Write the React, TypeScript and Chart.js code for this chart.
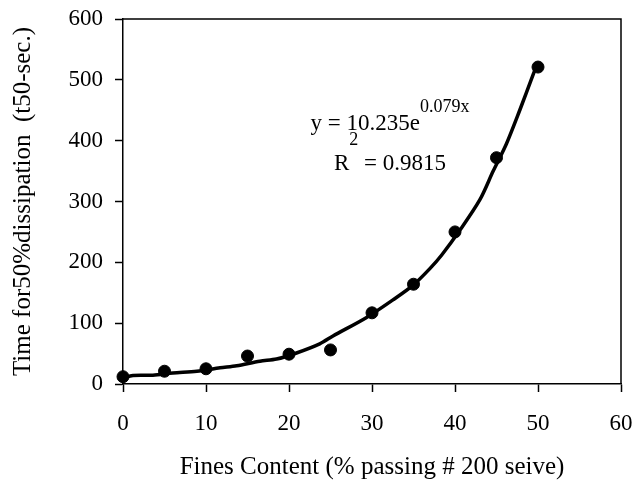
import React, { useEffect, useRef } from "react";
import { Chart, registerables } from "chart.js";

Chart.register(...registerables);

// Measured points: fines content (%) vs time for 50% dissipation (sec)
const finesContent = [0, 5, 10, 15, 20, 25, 30, 35, 40, 45, 50];
const t50Seconds = [12, 21, 25, 46, 49, 56, 117, 164, 250, 372, 521];

// Trend curve
const trendX = [0, 1.2, 3.6, 6, 8.9, 11.7, 13.7, 16.5, 18.5, 20.9, 23.7, 25.3, 29.3, 32.6, 35, 37, 38.4, 40.6, 43, 44.6, 46.2, 47.8, 49.4, 49.8];
const trendY = [10, 14, 14.5, 18, 21, 26.6, 30, 37.5, 41, 51, 66, 79, 109, 139, 163, 190, 212, 253, 303, 350, 395, 450, 508, 522];

const xTickValues = [0, 10, 20, 30, 40, 50, 60];
const yTickValues = [0, 100, 200, 300, 400, 500, 600];

const xTitle = "Fines Content (% passing # 200 seive)";
const yTitle = "Time for50%dissipation  (t50-sec.)";
const eqMain = "y = 10.235e";
const eqExp = "0.079x";
const r2Main = "R";
const r2Sup = "2";
const r2Rest = " = 0.9815";

const FONT = "'Liberation Serif', 'Times New Roman', serif";

const framePlugin = {
  id: "frameAndEquation",
  afterDatasetsDraw(chart: any) {
    const { ctx, chartArea } = chart;
    const { left, top, right, bottom } = chartArea;
    ctx.save();
    ctx.strokeStyle = "#000";
    ctx.lineWidth = 1.5;
    ctx.beginPath();
    ctx.moveTo(left, top);
    ctx.lineTo(right, top);
    ctx.lineTo(right, bottom);
    ctx.stroke();

    ctx.fillStyle = "#000";
    ctx.textAlign = "left";
    ctx.textBaseline = "alphabetic";
    const mainFont = `23px ${FONT}`;
    const supFont = `18px ${FONT}`;
    const cx = left + 267;

    ctx.font = mainFont;
    const w1 = ctx.measureText(eqMain).width;
    ctx.font = supFont;
    const w2 = ctx.measureText(eqExp).width;
    let x = cx - (w1 + w2) / 2;
    ctx.font = mainFont;
    ctx.fillText(eqMain, x, top + 111);
    ctx.font = supFont;
    ctx.fillText(eqExp, x + w1, top + 93);

    ctx.font = mainFont;
    const r1 = ctx.measureText(r2Main).width;
    const r3 = ctx.measureText(r2Rest).width;
    ctx.font = supFont;
    const r2 = ctx.measureText(r2Sup).width;
    x = cx - (r1 + r2 + r3) / 2;
    ctx.font = mainFont;
    ctx.fillText(r2Main, x, top + 151);
    ctx.font = supFont;
    ctx.fillText(r2Sup, x + r1, top + 126);
    ctx.font = mainFont;
    ctx.fillText(r2Rest, x + r1 + r2, top + 151);
    ctx.restore();
  },
};

const zeroPad = (s: any) => {
  s.paddingLeft = 0;
  s.paddingRight = 0;
  s.paddingTop = 0;
  s.paddingBottom = 0;
};

export default function App() {
  const canvasRef = useRef<HTMLCanvasElement | null>(null);

  useEffect(() => {
    if (!canvasRef.current) return;
    const chart = new Chart(canvasRef.current, {
      type: "scatter",
      data: {
        datasets: [
          {
            type: "scatter",
            data: finesContent.map((x, i) => ({ x, y: t50Seconds[i] })),
            backgroundColor: "#000",
            borderColor: "#000",
            pointRadius: 6,
            pointHoverRadius: 6,
            clip: false as any,
          },
          {
            type: "line",
            data: trendX.map((x, i) => ({ x, y: trendY[i] })),
            borderColor: "#000",
            borderWidth: 3.5,
            pointRadius: 0,
            tension: 0.3,
            fill: false,
            clip: false as any,
          } as any,
        ],
      },
      options: {
        animation: false,
        responsive: false,
        events: [],
        layout: { padding: { top: 19, right: 14, left: 0, bottom: 0 } },
        plugins: {
          legend: { display: false },
          tooltip: { enabled: false },
        },
        scales: {
          x: {
            type: "linear",
            min: 0,
            max: 60,
            afterFit: (s: any) => {
              s.height = 98;
              zeroPad(s);
            },
            afterBuildTicks: (s: any) => {
              s.ticks = xTickValues.map((v) => ({ value: v }));
            },
            ticks: {
              color: "#000",
              font: { family: FONT, size: 23, lineHeight: 1.2 },
              padding: 18,
              maxRotation: 0,
            },
            grid: {
              display: true,
              drawOnChartArea: false,
              drawTicks: true,
              tickLength: 8,
              tickWidth: 1.5,
              tickColor: "#000",
              color: "#000",
            },
            border: { display: true, color: "#000", width: 1.5 },
            title: {
              display: true,
              text: xTitle,
              color: "#000",
              font: { family: FONT, size: 25, lineHeight: 1.2 },
              padding: { top: 0, bottom: 0 },
            },
          },
          y: {
            type: "linear",
            min: 0,
            max: 600,
            afterFit: (s: any) => {
              s.width = 123;
              zeroPad(s);
            },
            afterBuildTicks: (s: any) => {
              s.ticks = yTickValues.map((v) => ({ value: v }));
            },
            ticks: {
              color: "#000",
              font: { family: FONT, size: 23, lineHeight: 1.2 },
              padding: 12,
            },
            grid: {
              display: true,
              drawOnChartArea: false,
              drawTicks: true,
              tickLength: 8,
              tickWidth: 1.5,
              tickColor: "#000",
              color: "#000",
            },
            border: { display: true, color: "#000", width: 1.5 },
            title: {
              display: true,
              text: yTitle,
              color: "#000",
              font: { family: FONT, size: 25, lineHeight: 1.2 },
              padding: { top: 8, bottom: 0 },
            },
          },
        },
      },
      plugins: [framePlugin],
    });
    return () => chart.destroy();
  }, []);

  return (
    <canvas
      ref={canvasRef}
      width={635}
      height={482}
      style={{ position: "absolute", left: 0, top: 0, width: 635, height: 482, display: "block", background: "#fff" }}
    />
  );
}
